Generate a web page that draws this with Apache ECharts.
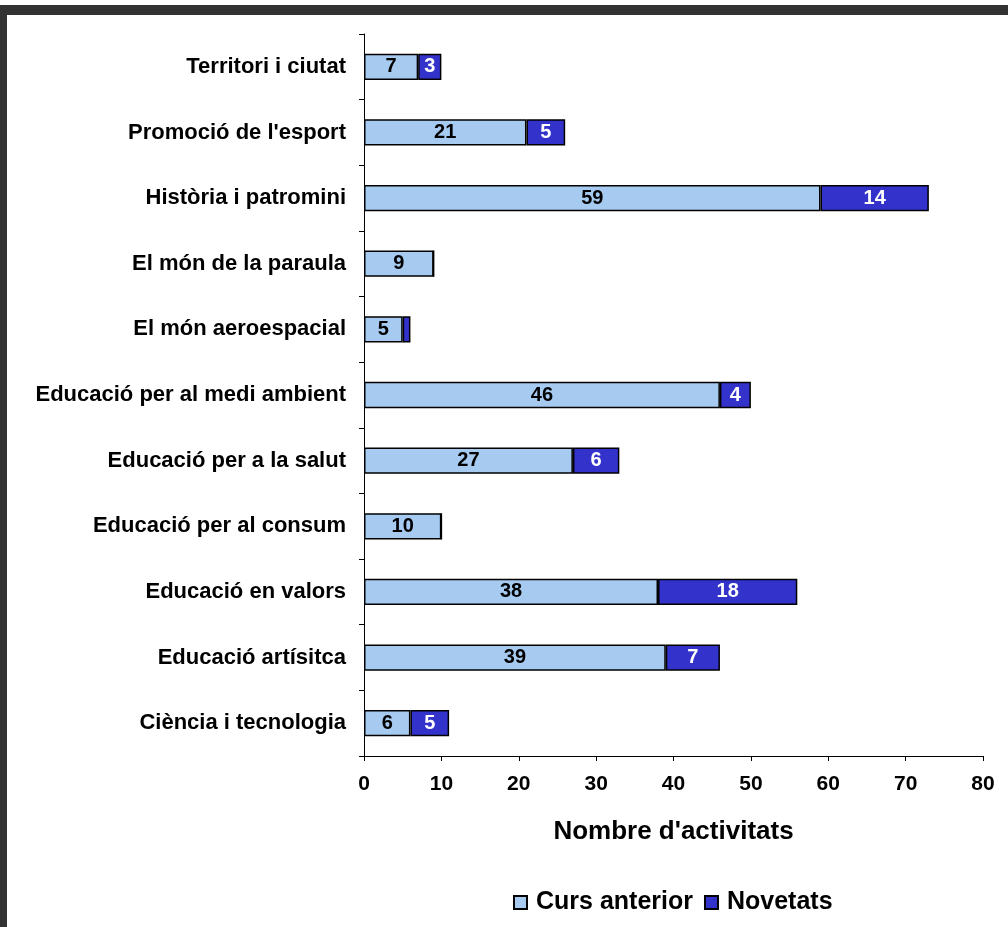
<!DOCTYPE html>
<html><head><meta charset="utf-8">
<script src="https://cdn.jsdelivr.net/npm/echarts@6/dist/echarts.min.js"></script>
<style>html,body{margin:0;padding:0;background:#fff}#c{width:1008px;height:927px}</style>
</head><body><div id="c"></div>
<script>
const categories = ["Territori i ciutat","Promoció de l'esport","Història i patromini","El món de la paraula","El món aeroespacial","Educació per al medi ambient","Educació per a la salut","Educació per al consum","Educació en valors","Educació artísitca","Ciència i tecnologia"];
const cursAnterior = [7,21,59,9,5,46,27,10,38,39,6];
const novetats = [3,5,14,0,1,4,6,0,18,7,5];
const xTicks = [0,10,20,30,40,50,60,70,80];

const font = "'Liberation Sans', Arial, sans-serif";
const chart = echarts.init(document.getElementById('c'));
chart.setOption({
  animation:false,
  backgroundColor:'#fff',
  textStyle:{fontFamily:font},
  graphic:[
    {type:'rect',shape:{x:0,y:5,width:1008,height:10},style:{fill:'#333333'}},
    {type:'rect',shape:{x:0,y:5,width:7,height:922},style:{fill:'#333333'}}
  ],
  grid:{left:364,right:25,top:34,bottom:171,containLabel:false},
  xAxis:{type:'value',min:0,max:80,interval:10,
    name:"Nombre d'activitats",nameLocation:'middle',nameGap:63,
    nameTextStyle:{fontFamily:font,fontWeight:'bold',fontSize:26,color:'#000'},
    axisLine:{show:true,lineStyle:{color:'#000',width:1}},
    axisTick:{show:true,length:5,lineStyle:{color:'#000'}},
    axisLabel:{fontFamily:font,fontWeight:'bold',fontSize:21,color:'#000',margin:18,
      formatter:v=>xTicks.includes(v)?String(v):''},
    splitLine:{show:false}},
  yAxis:{type:'category',data:categories,inverse:true,
    axisLine:{show:true,lineStyle:{color:'#000',width:1}},
    axisTick:{show:true,length:5,lineStyle:{color:'#000'}},
    axisLabel:{fontFamily:font,fontWeight:'bold',fontSize:22,color:'#000',margin:18}},
  legend:{left:508,top:885,itemWidth:13,itemHeight:13,itemGap:11,
    textStyle:{fontFamily:font,fontWeight:'bold',fontSize:25,color:'#000',padding:[0,0,0,4]},
    data:[{name:'Curs anterior',icon:'rect'},{name:'Novetats',icon:'rect'}]},
  series:[
    {name:'Curs anterior',type:'bar',stack:'a',barCategoryGap:'60%',data:cursAnterior,
      itemStyle:{color:'#a6caf0',borderColor:'#000',borderWidth:1.5},
      label:{show:true,position:'inside',fontFamily:font,fontWeight:'bold',fontSize:20,color:'#000',
        formatter:p=>p.value>=3?p.value:''}},
    {name:'Novetats',type:'bar',stack:'a',barCategoryGap:'60%',data:novetats,
      itemStyle:{color:'#3333cc',borderColor:'#000',borderWidth:1.5},
      label:{show:true,position:'inside',fontFamily:font,fontWeight:'bold',fontSize:20,color:'#fff',
        formatter:p=>p.value>=2?p.value:''}}
  ]
});
</script></body></html>
